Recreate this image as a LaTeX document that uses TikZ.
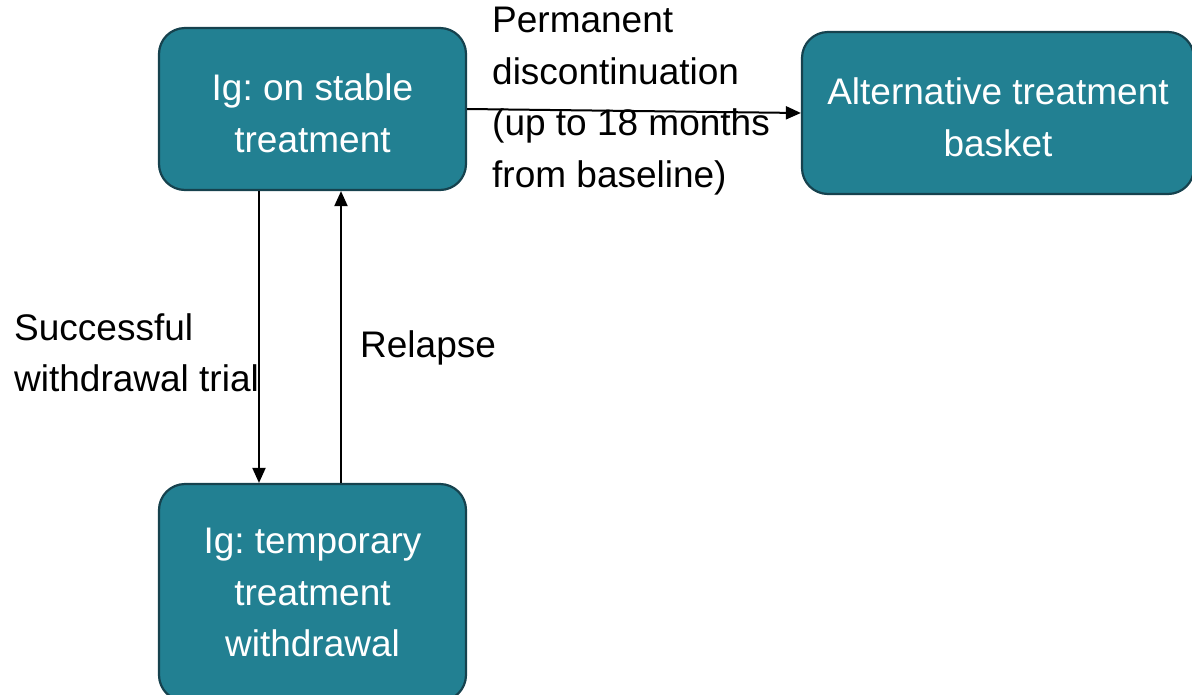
\documentclass[tikz,border=0pt]{standalone}
\usepackage{fontspec}
\setmainfont{Liberation Sans}
\usetikzlibrary{arrows.meta}
\definecolor{boxfill}{RGB}{34,128,146}
\definecolor{boxline}{RGB}{22,66,78}
\tikzset{
  statebox/.style={draw=boxline, line width=2.2pt, fill=boxfill, rounded corners=26pt,
    text=white, align=center, inner sep=0pt,
    font=\frenchspacing\fontsize{37}{51.5}\selectfont},
  lbl/.style={anchor=west, align=left, inner sep=0pt, text=black,
    font=\frenchspacing\fontsize{37}{51.5}\selectfont},
  arr/.style={line width=2pt, -{Triangle[length=15pt,width=13pt]}}
}
\begin{document}
\begin{tikzpicture}[x=1pt,y=-1pt]
\useasboundingbox (0,0) rectangle (1192,694);
\clip (0,0) rectangle (1192,694);
\node[statebox, minimum width=307pt, minimum height=162pt] (b1) at (312.5,109) {\rule{0pt}{35.5pt}Ig: on stable\\treatment};
\node[statebox, minimum width=392pt, minimum height=162pt] (b2) at (998,113) {\rule{0pt}{35.5pt}Alternative treatment\\basket};
\node[statebox, minimum width=307pt, minimum height=217pt] (b3) at (312.5,592.5) {Ig: temporary\\treatment\\withdrawal};
\draw[arr] ([xshift=-53.5pt]b1.south) -- ([xshift=-53.5pt]b3.north);
\draw[arr] ([xshift=28.5pt]b3.north) -- ([xshift=28.5pt]b1.south);
\draw[arr] (b1.east) -- (b2.west);
\node[lbl] (l1) at (492,101) {Permanent\\discontinuation\\(up to 18 months\\from baseline)};
\node[lbl] (l2) at (14,353) {Successful\\withdrawal trial};
\node[lbl] (l3) at (360,348) {Relapse};
\end{tikzpicture}
\end{document}
